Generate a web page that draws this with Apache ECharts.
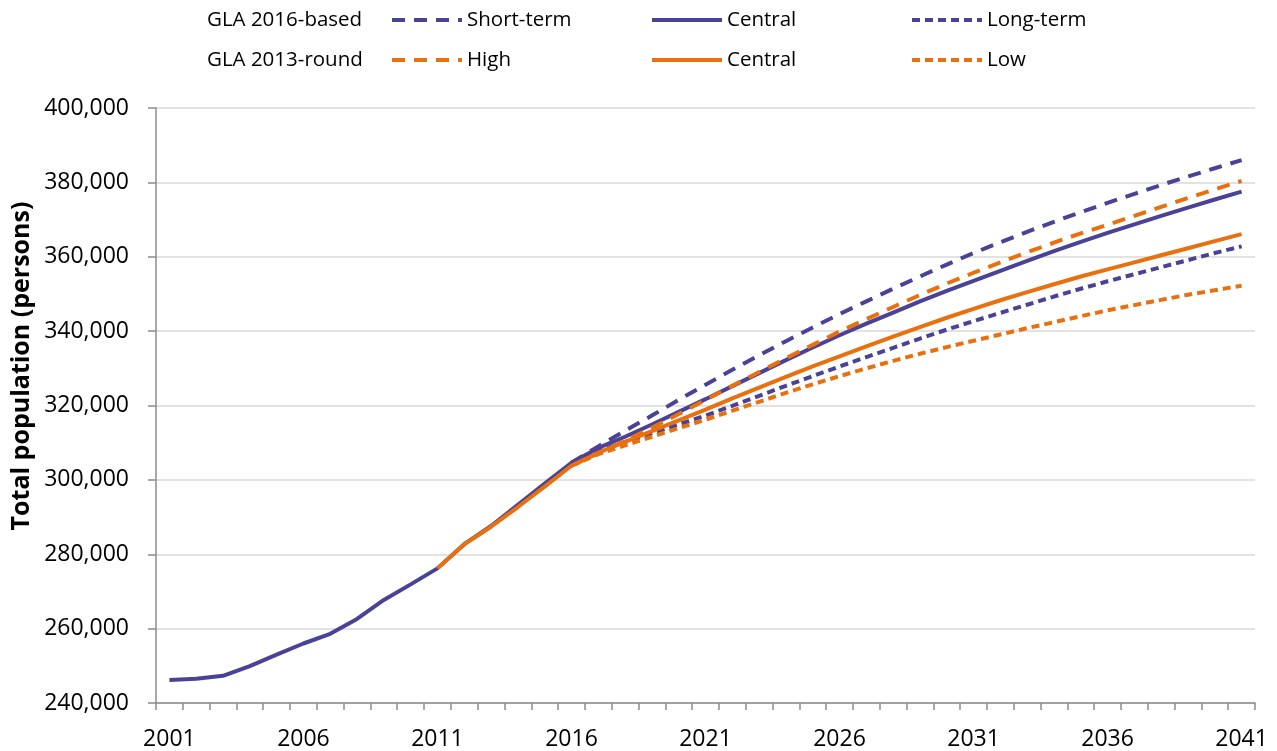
<!DOCTYPE html>
<html>
<head>
<meta charset="utf-8">
<title>Total population projections</title>
<script src="https://cdn.jsdelivr.net/npm/echarts@6/dist/echarts.min.js"></script>
<style>
  html, body { margin: 0; padding: 0; background: #fff; }
  #chart { width: 1277px; height: 751px; }
</style>
</head>
<body>
<div id="chart"></div>
<script>
// years on the x axis
var years = [
  "2001", "2002", "2003", "2004", "2005", "2006", "2007", "2008", "2009", "2010",
  "2011", "2012", "2013", "2014", "2015", "2016", "2017", "2018", "2019", "2020",
  "2021", "2022", "2023", "2024", "2025", "2026", "2027", "2028", "2029", "2030",
  "2031", "2032", "2033", "2034", "2035", "2036", "2037", "2038", "2039", "2040",
  "2041"
];

// GLA 2016-based
var central2016 = [
  246200, 246500, 247300, 249900, 253000, 256000, 258600, 262600, 267700, 271900,
  276200, 282700, 287600, 293300, 299000, 304600, 308600, 311600, 314900, 318300,
  321700, 325200, 328700, 332200, 335600, 338900, 342000, 345000, 348000, 350800,
  353500, 356200, 358900, 361500, 364000, 366400, 368700, 371000, 373200, 375400,
  377500
];
var shortTerm = [
  null, null, null, null, null, null, null, null, null, null,
  null, null, null, null, null, 304600, 309000, 313200, 317300, 321500,
  325600, 329600, 333500, 337300, 341000, 344600, 348000, 351400, 354700, 357900,
  361000, 363900, 366700, 369400, 372000, 374500, 376900, 379300, 381600, 383800,
  386000
];
var longTerm = [
  null, null, null, null, null, null, null, null, null, null,
  null, null, null, null, null, 304600, 307800, 310200, 312500, 314900,
  317300, 319900, 322600, 325300, 327900, 330500, 333000, 335500, 338000, 340400,
  342700, 344900, 347100, 349300, 351400, 353400, 355300, 357200, 359100, 361000,
  362800
];

// GLA 2013-round
var central2013 = [
  null, null, null, null, null, null, null, null, null, null,
  276200, 282700, 287400, 292700, 298200, 303800, 307300, 310200, 313100, 316000,
  318900, 321900, 324800, 327700, 330500, 333200, 335900, 338500, 341100, 343600,
  346000, 348300, 350500, 352600, 354700, 356600, 358500, 360400, 362300, 364200,
  366100
];
var high = [
  null, null, null, null, null, null, null, null, null, null,
  null, null, null, null, null, 303800, 307200, 310500, 314000, 317700,
  321500, 325300, 329000, 332700, 336300, 339900, 343200, 346500, 349700, 352800,
  355700, 358500, 361200, 363800, 366300, 368600, 371000, 373400, 375800, 378100,
  380400
];
var low = [
  null, null, null, null, null, null, null, null, null, null,
  null, null, null, null, null, 303800, 306900, 309300, 311600, 313900,
  316200, 318600, 321000, 323400, 325700, 327900, 330000, 332000, 333900, 335700,
  337400, 339100, 340800, 342400, 344000, 345600, 347000, 348400, 349800, 351000,
  352200
];

var BLUE = "#4a4296";
var ORANGE = "#e8700f";
var FONT = "Open Sans";
var LONG_DASH = [13, 9];
var SHORT_DASH = [8, 5];

function makeLine(name, data, color, dash) {
  return {
    name: name,
    type: "line",
    data: data,
    symbol: "none",
    showSymbol: false,
    connectNulls: false,
    lineStyle: { color: color, width: 4, type: dash, cap: "butt" },
    itemStyle: { color: color },
    emphasis: { disabled: true },
  };
}

// one legend per entry so each sits where it does in the original
function makeLegend(name, left, top) {
  return {
    data: [name],
    left: left,
    top: top,
    padding: 0,
    itemWidth: 70,
    itemHeight: 14,
    selectedMode: false,
    itemStyle: { color: "rgba(0,0,0,0)", borderWidth: 0, opacity: 0 },
    lineStyle: { width: 4 },
    formatter: function (n) {
      return n.replace(/ \(.*\)$/, "");
    },
    textStyle: { fontFamily: FONT, fontSize: 20.5, color: "#000", lineHeight: 26 },
  };
}

var chart = echarts.init(document.getElementById("chart"));
chart.setOption({
  animation: false,
  backgroundColor: "#fff",
  grid: { left: 156, right: 22, top: 108, bottom: 47, containLabel: false },
  legend: [
    makeLegend("Short-term", 390, 7),
    makeLegend("Central (2016)", 650, 7),
    makeLegend("Long-term", 910, 7),
    makeLegend("High", 390, 47),
    makeLegend("Central (2013)", 650, 47),
    makeLegend("Low", 910, 47),
  ],
  graphic: [
    {
      type: "text", left: 207, top: 7,
      style: { text: "GLA 2016-based", font: "20.5px '" + FONT + "'", fill: "#000", lineHeight: 26 },
    },
    {
      type: "text", left: 207, top: 47,
      style: { text: "GLA 2013-round", font: "20.5px '" + FONT + "'", fill: "#000", lineHeight: 26 },
    },
    {
      type: "text", x: 22, y: 366, rotation: Math.PI / 2,
      style: {
        text: "Total population (persons)",
        font: "bold 25px '" + FONT + "'",
        fill: "#000",
        align: "center",
        verticalAlign: "middle",
      },
    },
  ],
  xAxis: {
    type: "category",
    data: years,
    boundaryGap: true,
    axisLine: { lineStyle: { color: "#8c8c8c", width: 1.5 } },
    axisTick: { show: true, interval: 0, length: 7, lineStyle: { color: "#8c8c8c", width: 1.5 } },
    axisLabel: {
      interval: 4,
      margin: 25,
      color: "#000",
      fontFamily: FONT,
      fontSize: 23,
    },
    splitLine: { show: false },
  },
  yAxis: {
    type: "value",
    min: 240000,
    max: 400000,
    interval: 20000,
    axisLine: { show: true, lineStyle: { color: "#8c8c8c", width: 1.5 } },
    axisTick: { show: true, length: 8, lineStyle: { color: "#8c8c8c", width: 1.5 } },
    axisLabel: {
      margin: 27,
      color: "#000",
      fontFamily: FONT,
      fontSize: 23,
      formatter: function (v) {
        return v.toLocaleString("en-GB");
      },
    },
    splitLine: { lineStyle: { color: "#d9d9d9", width: 1.5 } },
  },
  series: [
    makeLine("Short-term", shortTerm, BLUE, LONG_DASH),
    makeLine("Long-term", longTerm, BLUE, SHORT_DASH),
    makeLine("Central (2016)", central2016, BLUE, "solid"),
    makeLine("High", high, ORANGE, LONG_DASH),
    makeLine("Low", low, ORANGE, SHORT_DASH),
    makeLine("Central (2013)", central2013, ORANGE, "solid"),
  ],
});
</script>
</body>
</html>
